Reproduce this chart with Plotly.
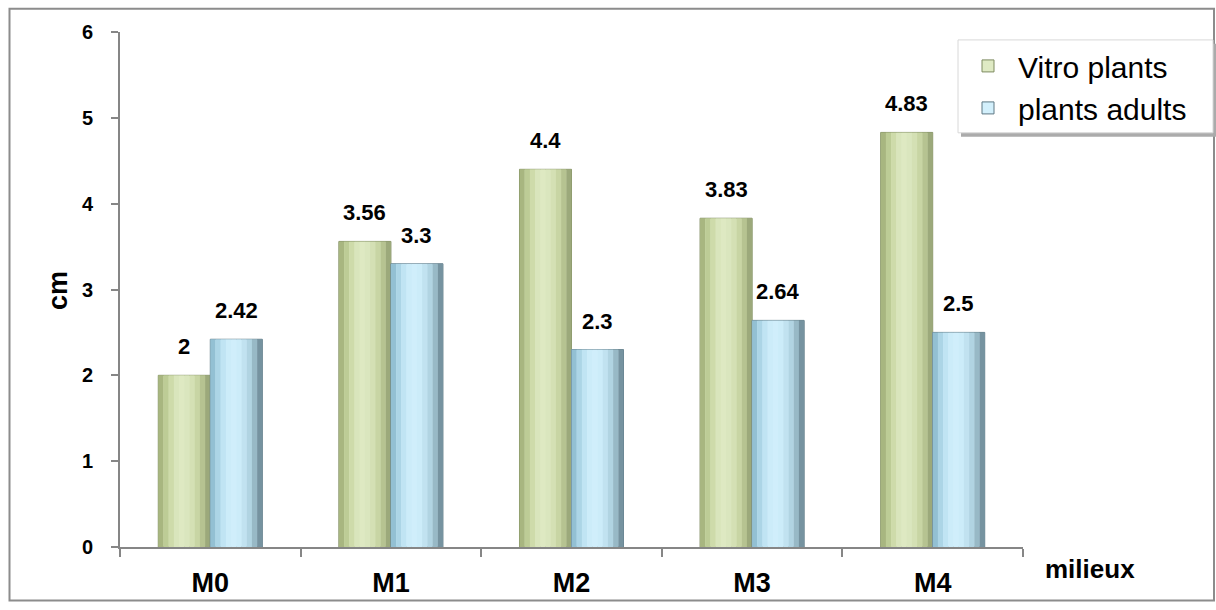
import plotly.graph_objects as go

categories = ["M0", "M1", "M2", "M3", "M4"]
vitro_plants = [2, 3.56, 4.4, 3.83, 4.83]
plants_adults = [2.42, 3.3, 2.3, 2.64, 2.5]
series_names = ["Vitro plants", "plants adults"]
y_ticks = [0, 1, 2, 3, 4, 5, 6]

# styling
BAR_W = 0.288
N_STRIPS = 10
green_stops = ["#9DAC74", "#C8D6A2", "#DFEAC4", "#D9E5BC", "#C3D09C", "#8F9C70"]
blue_stops = ["#86B5C9", "#B9E0F0", "#D3F0FC", "#C9EAF8", "#A9CCDA", "#65808C"]


def hex2rgb(h):
    h = h.lstrip("#")
    return tuple(int(h[i:i + 2], 16) for i in (0, 2, 4))


def interp(stops, t):
    n = len(stops) - 1
    pos = t * n
    i = min(int(pos), n - 1)
    f = pos - i
    a, b = hex2rgb(stops[i]), hex2rgb(stops[i + 1])
    c = [round(a[k] + (b[k] - a[k]) * f) for k in range(3)]
    return "rgb(%d,%d,%d)" % tuple(c)


fig = go.Figure()

for s_idx, (name, vals, stops, edge) in enumerate([
    (series_names[0], vitro_plants, green_stops, "#7E8B60"),
    (series_names[1], plants_adults, blue_stops, "#5F7884"),
]):
    off = -BAR_W if s_idx == 0 else 0.0
    fig.add_trace(go.Bar(
        x=categories, y=vals, name=name,
        width=BAR_W, offset=off,
        marker=dict(color=interp(stops, 0.4), line=dict(color=edge, width=1)),
        showlegend=True,
    ))
    sw = BAR_W / N_STRIPS
    for k in range(N_STRIPS):
        t = (k + 0.5) / N_STRIPS
        fig.add_trace(go.Bar(
            x=categories, y=vals,
            width=sw * 1.02, offset=off + k * sw,
            marker=dict(color=interp(stops, t), line=dict(width=0)),
            showlegend=False, hoverinfo="skip",
        ))

annotations = []
for s_idx, vals in enumerate([vitro_plants, plants_adults]):
    for c, v in zip(categories, vals):
        annotations.append(dict(
            x=c, y=v, xref="x", yref="y",
            text="<b>%s</b>" % (("%g" % v)),
            showarrow=False, yanchor="bottom",
            xshift=-26 if s_idx == 0 else 26, yshift=14,
            font=dict(family="Liberation Sans, Arial", size=22, color="black"),
        ))

# axis titles
annotations.append(dict(
    x=-0.0687, y=0.499, xref="paper", yref="paper", text="<b>cm</b>",
    textangle=-90, showarrow=False, xanchor="center", yanchor="middle",
    font=dict(family="Liberation Sans, Arial", size=27, color="black"),
))
annotations.append(dict(
    x=1.074, y=-0.042, xref="paper", yref="paper", text="<b>milieux</b>",
    showarrow=False, xanchor="center", yanchor="middle",
    font=dict(family="Liberation Sans, Arial", size=26, color="black"),
))


def px_x(p):
    return (p - 120) / 903


def px_y(p):
    return (553 - p) / 521


shapes = [
    # outer chart border
    dict(type="rect", xref="paper", yref="paper",
         x0=px_x(9.5), x1=px_x(1214), y0=px_y(607), y1=px_y(8.5),
         line=dict(color="#8C8C8C", width=2), fillcolor="rgba(0,0,0,0)", layer="below"),
    # legend shadow
    dict(type="rect", xref="paper", yref="paper",
         x0=px_x(961), x1=px_x(1216), y0=px_y(138), y1=px_y(44),
         line=dict(width=0), fillcolor="#ABABAB", layer="below"),
    # legend box
    dict(type="rect", xref="paper", yref="paper",
         x0=px_x(958), x1=px_x(1213), y0=px_y(134), y1=px_y(40),
         line=dict(color="#D8D8D8", width=1), fillcolor="white", layer="below"),
]

fig.update_layout(
    width=1216, height=610,
    margin=dict(l=120, r=193, t=32, b=57),
    paper_bgcolor="white", plot_bgcolor="white",
    barmode="overlay",
    showlegend=True,
    legend=dict(
        x=px_x(958), y=px_y(40), xanchor="left", yanchor="top",
        bgcolor="rgba(0,0,0,0)", borderwidth=0,
        font=dict(family="Liberation Sans, Arial", size=30, color="black"),
        itemwidth=50,
    ),
    xaxis=dict(
        type="category", categoryorder="array", categoryarray=categories,
        showline=True, linecolor="#868686", linewidth=2,
        ticks="outside", tickson="boundaries", ticklen=8, tickcolor="#868686", tickwidth=2,
        tickfont=dict(family="Liberation Sans, Arial", size=27, color="black", weight="bold"),
        ticklabelstandoff=11,
        showgrid=False, zeroline=False,
    ),
    yaxis=dict(
        range=[0, 6], tickvals=y_ticks,
        showline=True, linecolor="#868686", linewidth=2,
        ticks="outside", ticklen=7, tickcolor="#868686", tickwidth=2,
        tickfont=dict(family="Liberation Sans, Arial", size=20, color="black", weight="bold"),
        ticklabelstandoff=14,
        showgrid=False, zeroline=False,
    ),
    annotations=annotations,
    shapes=shapes,
)

fig.write_html("out.html", config={"displayModeBar": False},
               post_script="document.body.style.margin='0';document.body.style.padding='0';")
